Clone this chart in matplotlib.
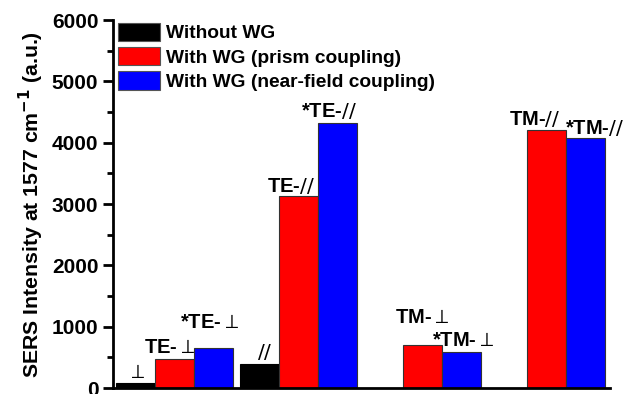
import numpy as np
import matplotlib.pyplot as plt
from matplotlib.ticker import MultipleLocator

plt.rcParams['font.family'] = ['Liberation Sans', 'DejaVu Sans']

groups = [0, 1, 2, 3]
without_wg = [80, 390, np.nan, np.nan]
prism = [470, 3130, 700, 4200]
near_field = [650, 4330, 590, 4080]

without_labels = ['$\\perp$', '$//$', '', '']
prism_labels = ['TE-$\\perp$', 'TE-$//$', 'TM-$\\perp$', 'TM-$//$']
near_labels = ['*TE-$\\perp$', '*TE-$//$', '*TM-$\\perp$', '*TM-$//$']

# label offsets (pixels) from top-centre of each bar
without_off = [(1, 1), (5, 2), None, None]
prism_off = [(-5, 2), (-8, 0), (-1, 18), (-12, 1)]
near_off = [(-4, 16), (-9, 2), (1, 2), (9, 0)]

w = 0.315
x = np.array(groups)

fig = plt.figure(figsize=(6.38, 3.94), dpi=100)
ax = fig.add_axes([0.177, 0.015, 0.779, 0.934])

ax.bar(x - w, without_wg, w, color='black', edgecolor='black', lw=0.8, label='Without WG')
ax.bar(x, prism, w, color='#ff0000', edgecolor='#333333', lw=0.8, label='With WG (prism coupling)')
ax.bar(x + w, near_field, w, color='#0000ff', edgecolor='#333333', lw=0.8, label='With WG (near-field coupling)')

for xs, vals, labs, offs in [(x - w, without_wg, without_labels, without_off),
                             (x, prism, prism_labels, prism_off),
                             (x + w, near_field, near_labels, near_off)]:
    for xi, v, lab, off in zip(xs, vals, labs, offs):
        if not lab:
            continue
        ax.annotate(lab, xy=(xi, v), xytext=off, textcoords='offset pixels',
                    ha='center', va='bottom', fontsize=14.5, fontweight='bold')

ax.set_xlim(-0.5, 3.51)
ax.set_ylim(0, 6000)
ax.set_xticks([])
ax.yaxis.set_major_locator(MultipleLocator(1000))
ax.yaxis.set_minor_locator(MultipleLocator(500))
ax.tick_params(axis='y', which='major', direction='out', length=7, width=2, labelsize=15)
ax.tick_params(axis='y', which='minor', direction='out', length=4, width=2)
for t in ax.get_yticklabels():
    t.set_fontweight('bold')
ax.spines['top'].set_visible(False)
ax.spines['right'].set_visible(False)
ax.spines['left'].set_linewidth(2)
ax.spines['bottom'].set_linewidth(2)

ax.set_ylabel('SERS Intensity at 1577 cm$^{\\mathbf{-1}}$ (a.u.)', fontsize=15.3, fontweight='bold', labelpad=4)

leg = ax.legend(loc='upper left', bbox_to_anchor=(0.01, 0.993), frameon=False,
                prop={'weight': 'bold', 'size': 13.8},
                handlelength=2.2, handleheight=1.08, borderaxespad=0, borderpad=0,
                labelspacing=0.25, handletextpad=0.3)
for h in leg.legend_handles:
    h.set_edgecolor('#555555')

fig.savefig('out.png', dpi=100)
